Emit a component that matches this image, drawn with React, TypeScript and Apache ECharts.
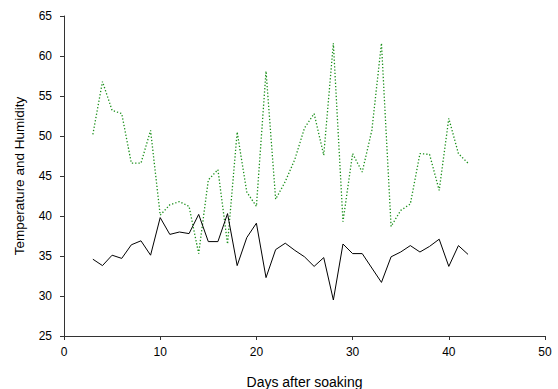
import React, { useEffect, useRef } from "react";
import * as echarts from "echarts";

const days: number[] = [3,4,5,6,7,8,9,10,11,12,13,14,15,16,17,18,19,20,21,22,23,24,25,26,27,28,29,30,31,32,33,34,35,36,37,38,39,40,41,42];
const temperature: number[] = [34.6,33.8,35.1,34.7,36.4,36.9,35.1,39.8,37.7,38.0,37.8,40.2,36.8,36.8,40.3,33.8,37.3,39.1,32.3,35.8,36.6,35.7,34.9,33.7,34.8,29.5,36.5,35.3,35.3,33.5,31.7,34.9,35.5,36.3,35.5,36.2,37.1,33.7,36.3,35.2];
const humidity: number[] = [50.2,56.8,53.2,52.8,46.6,46.6,50.7,40.1,41.4,41.8,41.2,35.3,44.5,45.8,36.5,50.5,43.0,41.2,58.1,42.1,44.3,47.1,51.0,52.8,47.6,61.6,39.3,47.8,45.5,50.7,61.6,38.7,40.7,41.5,47.8,47.7,43.2,52.2,47.8,46.6];

const xTicks = { min: 0, max: 50, interval: 10 };
const yTicks = { min: 25, max: 65, interval: 5 };

export default function App() {
  const ref = useRef<HTMLDivElement>(null);
  useEffect(() => {
    document.body.style.margin = "0";
    const chart = echarts.init(ref.current!, null, { renderer: "svg" });
    const font = "Liberation Sans, Arial, sans-serif";
    chart.setOption({
      animation: false,
      backgroundColor: "#ffffff",
      grid: { left: 64, right: 13, top: 16, bottom: 53, containLabel: false, outerBoundsMode: "none" },
      xAxis: {
        type: "value",
        min: xTicks.min,
        max: xTicks.max,
        interval: xTicks.interval,
        name: "Days after soaking",
        nameLocation: "middle",
        nameGap: 39,
        nameTextStyle: { fontFamily: font, fontSize: 14, color: "#000" },
        axisLine: { show: true, lineStyle: { color: "#333", width: 1 } },
        axisTick: { show: true, length: 4, lineStyle: { color: "#333" } },
        axisLabel: { fontFamily: font, fontSize: 12, color: "#000", margin: 10 },
        splitLine: { show: false },
      },
      yAxis: {
        type: "value",
        min: yTicks.min,
        max: yTicks.max,
        interval: yTicks.interval,
        name: "Temperature and Humidity",
        nameLocation: "middle",
        nameGap: 38,
        nameTextStyle: { fontFamily: font, fontSize: 13.5, color: "#000" },
        axisLine: { show: true, lineStyle: { color: "#333", width: 1 } },
        axisTick: { show: true, length: 4, lineStyle: { color: "#333" } },
        axisLabel: { fontFamily: font, fontSize: 12, color: "#000", margin: 12 },
        splitLine: { show: false },
      },
      series: [
        {
          type: "line",
          name: "Humidity",
          data: days.map((d, i) => [d, humidity[i]]),
          showSymbol: false,
          symbol: "none",
          lineStyle: { color: "#1a8f1a", width: 1.3, type: [1.3, 2] },
          z: 2,
        },
        {
          type: "line",
          name: "Temperature",
          data: days.map((d, i) => [d, temperature[i]]),
          showSymbol: false,
          symbol: "none",
          lineStyle: { color: "#000000", width: 1 },
          z: 3,
        },
      ],
    });
    return () => chart.dispose();
  }, []);
  return <div ref={ref} style={{ width: 558, height: 389 }} />;
}
